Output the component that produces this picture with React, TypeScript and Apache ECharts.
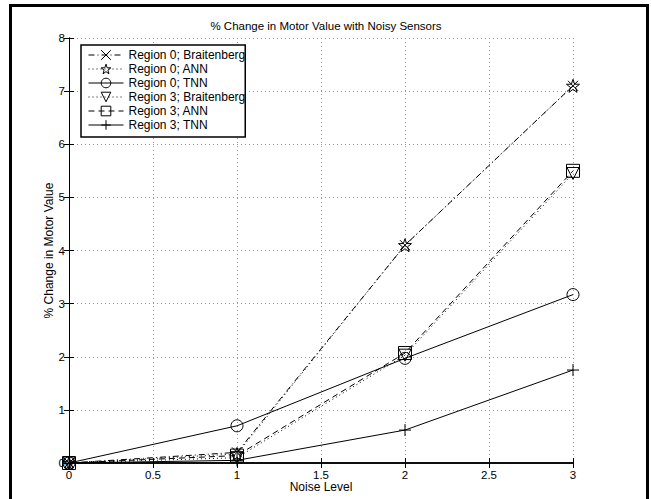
import React, { useEffect, useRef } from "react";
import * as echarts from "echarts";

const noiseLevels = [0, 1, 2, 3];
const r0Braitenberg = [0, 0.2, 4.1, 7.1];
const r0ANN = [0, 0.17, 4.1, 7.1];
const r0TNN = [0, 0.7, 1.97, 3.17];
const r3Braitenberg = [0, 0.1, 2.03, 5.45];
const r3ANN = [0, 0.14, 2.07, 5.5];
const r3TNN = [0, 0.05, 0.62, 1.75];
const seriesNames = [
  "Region 0; Braitenberg",
  "Region 0; ANN",
  "Region 0; TNN",
  "Region 3; Braitenberg",
  "Region 3; ANN",
  "Region 3; TNN",
];

const FONT = "Liberation Sans, Arial, sans-serif";
const XSYM = "path://M0,0L10,10M10,0L0,10";
const STAR =
  "path://M5,0L6.18,3.38L9.76,3.45L6.9,5.62L7.94,9.05L5,7L2.06,9.05L3.1,5.62L0.24,3.45L3.82,3.38Z";
const TRI = "path://M0,0L10,0L5,10Z";
const PLUS = "path://M5,0L5,10M0,5L10,5";

export default function App() {
  const ref = useRef<HTMLDivElement>(null);
  useEffect(() => {
    if (!ref.current) return;
    const chart = echarts.init(ref.current, null, { renderer: "svg" });
    const mk = (
      name: string,
      vals: number[],
      symbol: string,
      size: number,
      dash: any
    ) => ({
      name,
      type: "line",
      data: noiseLevels.map((x, i) => [x, vals[i]]),
      symbol,
      symbolSize: size,
      showAllSymbol: true,
      clip: false,
      xAxisIndex: 0,
      yAxisIndex: 0,
      itemStyle: { color: "rgba(255,255,255,0)", borderColor: "#000", borderWidth: 1 },
      lineStyle: { color: "#000", width: 1, type: dash },
      emphasis: { disabled: true },
    });
    const grid = "#999";
    chart.setOption({
      animation: false,
      backgroundColor: "#fff",
      title: {
        text: "% Change in Motor Value with Noisy Sensors",
        left: 321,
        top: 15,
        textAlign: "center",
        textStyle: { fontFamily: FONT, fontSize: 11.5, fontWeight: "normal", color: "#000" },
      },
      graphic: [
        {
          type: "rect",
          shape: { x: 10.5, y: 5.5, width: 637, height: 520 },
          style: { fill: "none", stroke: "#000", lineWidth: 3 },
          silent: true,
          z: 100,
        },
      ],
      legend: {
        orient: "vertical",
        left: 81,
        top: 45,
        itemWidth: 35,
        itemHeight: 12,
        itemGap: 2,
        padding: [4, 0, 6, 7],
        borderColor: "#000",
        borderWidth: 1.5,
        backgroundColor: "#fff",
        lineStyle: { width: 1 },
        itemStyle: { borderWidth: 1 },
        textStyle: { fontFamily: FONT, fontSize: 12, color: "#000" },
        data: seriesNames,
        selectedMode: false,
      },
      grid: { left: 69, right: 78, top: 38, bottom: 36 },
      xAxis: [
        {
          type: "value",
          min: 0,
          max: 3,
          interval: 0.5,
          position: "bottom",
          name: "Noise Level",
          nameLocation: "middle",
          nameGap: 18,
          nameMoveOverlap: false,
          nameTextStyle: { fontFamily: FONT, fontSize: 12, color: "#000" },
          axisLine: { lineStyle: { color: "#000", width: 1.5 } },
          axisTick: { inside: true, length: 5, lineStyle: { color: "#000" } },
          axisLabel: { fontFamily: FONT, fontSize: 11.5, color: "#000", margin: 6 },
          splitLine: { show: true, lineStyle: { color: grid, type: [1, 3] } },
        },
        {
          type: "value",
          min: 0,
          max: 3,
          interval: 0.5,
          position: "top",
          axisLine: { lineStyle: { color: "#000", width: 1.5 } },
          axisTick: { inside: true, length: 5, lineStyle: { color: "#000" } },
          axisLabel: { show: false },
          splitLine: { show: false },
        },
      ],
      yAxis: [
        {
          type: "value",
          min: 0,
          max: 8,
          interval: 1,
          position: "left",
          name: "% Change in Motor Value",
          nameLocation: "middle",
          nameGap: 14,
          nameMoveOverlap: false,
          nameTextStyle: { fontFamily: FONT, fontSize: 12, color: "#000" },
          axisLine: { lineStyle: { color: "#000", width: 1 } },
          axisTick: { inside: true, length: 5, lineStyle: { color: "#000" } },
          axisLabel: { fontFamily: FONT, fontSize: 11.5, color: "#000", margin: 4 },
          splitLine: { show: true, lineStyle: { color: grid, type: [1, 3] } },
        },
        {
          type: "value",
          min: 0,
          max: 8,
          interval: 1,
          position: "right",
          axisLine: { show: true, lineStyle: { color: "#000", width: 1 } },
          axisTick: { show: true, inside: true, length: 5, lineStyle: { color: "#000" } },
          axisLabel: { show: false },
          splitLine: { show: false },
        },
      ],
      series: [
        mk(seriesNames[0], r0Braitenberg, XSYM, 10, [6, 3, 1, 3]),
        mk(seriesNames[1], r0ANN, STAR, 13, [1, 3]),
        mk(seriesNames[2], r0TNN, "circle", 12, "solid"),
        mk(seriesNames[3], r3Braitenberg, TRI, 12, [1, 3]),
        mk(seriesNames[4], r3ANN, "rect", 13, [6, 4]),
        mk(seriesNames[5], r3TNN, PLUS, 12, "solid"),
      ],
    });
    return () => chart.dispose();
  }, []);
  return (
    <div
      ref={ref}
      style={{ position: "fixed", left: 0, top: 0, width: 651, height: 499 }}
    />
  );
}
